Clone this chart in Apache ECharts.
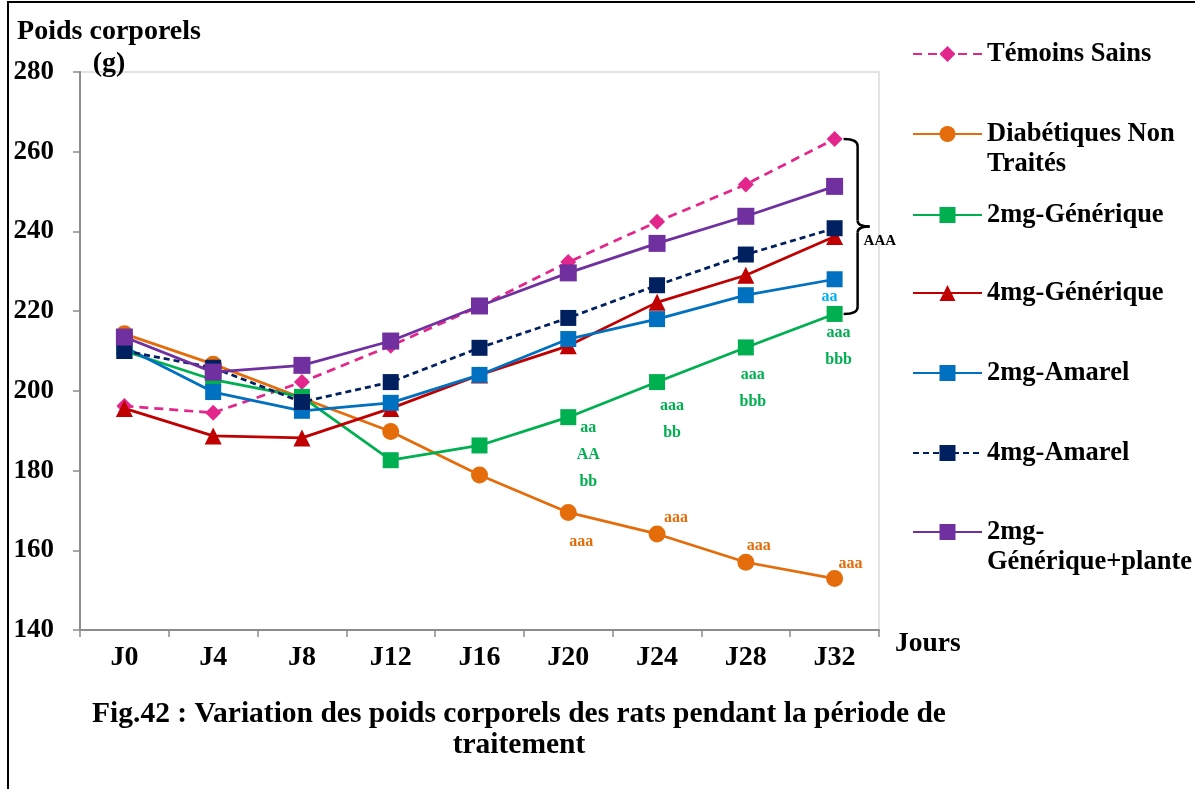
<!DOCTYPE html>
<html>
<head>
<meta charset="utf-8">
<script src="https://cdn.jsdelivr.net/npm/echarts@6/dist/echarts.min.js"></script>
<style>
    body { margin: 0; background: #fff; }
    #graphique { width: 1195px; height: 789px; }
    #cadre {
        position: absolute; left: 7px; top: 1px; width: 1300px; height: 900px;
        border-left: 2px solid #000; border-top: 2px solid #000; pointer-events: none;
    }
</style>
</head>
<body>
<div id="graphique"></div>
<div id="cadre"></div>
<script>
// Données
const jours = ['J0', 'J4', 'J8', 'J12', 'J16', 'J20', 'J24', 'J28', 'J32'];
const temoinsSains = [196.2, 194.5, 202.2, 211.3, 221.2, 232.3, 242.4, 251.8, 263.2];
const diabetiquesNonTraites = [214.3, 206.7, 198.2, 189.8, 178.9, 169.5, 164.1, 157.0, 152.9];
const generique2mg = [210.0, 202.8, 198.5, 182.6, 186.3, 193.4, 202.2, 210.9, 219.3];
const generique4mg = [195.6, 188.7, 188.2, 195.6, 204.0, 211.3, 222.2, 229.0, 238.7];
const amarel2mg = [211.0, 199.7, 195.0, 197.0, 204.0, 213.0, 218.0, 224.0, 228.0];
const amarel4mg = [210.0, 205.8, 197.2, 202.2, 210.8, 218.3, 226.5, 234.2, 240.8];
const generiquePlante = [213.5, 204.7, 206.4, 212.5, 221.3, 229.6, 237.0, 243.8, 251.3];

// Lettres de significativité (index du jour -> texte)
const lettresGenerique2mg = {5: 'aa\nAA\nbb', 6: 'aaa\nbb', 7: 'aaa\nbbb', 8: 'aaa\nbbb'};
const lettresDiabetiques = {5: 'aaa', 6: 'aaa', 7: 'aaa', 8: 'aaa'};
const lettresAmarel2mg = {8: 'aa'};

// Décalages des lettres par rapport au point
const decalGenerique2mg = {5: [20, 38], 6: [15, 37], 7: [7, 41], 8: [4, 32]};
const decalDiabetiques = {5: [13, 29], 6: [19, -16], 7: [13, -16], 8: [16, -15]};
const decalAmarel2mg = {8: [-5, 18]};

const POLICE = '"Liberation Serif", "Times New Roman", serif';

function avecLettres(valeurs, lettres, decalages, couleur) {
    return valeurs.map((v, i) => {
        if (!lettres[i]) return v;
        return {
            value: v,
            label: {
                show: true,
                position: 'inside',
                offset: decalages[i],
                formatter: lettres[i],
                color: couleur,
                fontFamily: POLICE,
                fontWeight: 'bold',
                fontSize: 16,
                lineHeight: 27
            }
        };
    });
}

function serie(nom, donnees, couleur, symbole, taille, type) {
    return {
        name: nom,
        type: 'line',
        data: donnees,
        symbol: symbole,
        symbolSize: taille,
        color: couleur,
        itemStyle: {color: couleur},
        lineStyle: {color: couleur, width: 2.75, type: type || 'solid'},
        label: {show: false},
        emphasis: {disabled: true},
        animation: false
    };
}

// Une légende par série pour reproduire l'espacement irrégulier
function legende(nom, haut, deuxLignes) {
    return {
        show: true,
        data: [nom],
        left: 907,
        top: haut,
        orient: 'vertical',
        itemWidth: 69,
        itemHeight: 20,
        selectedMode: false,
        // ligne vide en tête : le symbole reste aligné sur la première ligne
        formatter: deuxLignes ? (n => ' \n' + n) : (n => n),
        textStyle: {
            fontFamily: POLICE,
            fontWeight: 'bold',
            fontSize: 26.5,
            lineHeight: 30,
            color: '#000'
        }
    };
}

const chartDom = document.getElementById('graphique');
const myChart = echarts.init(chartDom);

const option = {
    backgroundColor: '#fff',
    animation: false,
    title: [
        {
            text: 'Fig.42 : Variation des poids corporels des rats pendant la période de\ntraitement',
            left: 514,
            top: 694,
            textAlign: 'center',
            textStyle: {
                fontFamily: POLICE, fontWeight: 'bold', fontSize: 29.5, lineHeight: 31, color: '#000'
            }
        },
        {
            text: 'Poids corporels\n(g)',
            left: 104,
            top: 11,
            textAlign: 'center',
            textStyle: {
                fontFamily: POLICE, fontWeight: 'bold', fontSize: 28, lineHeight: 32, color: '#000'
            }
        }
    ],
    legend: [
        legende('Témoins Sains', 34),
        legende('Diabétiques Non\nTraités', 84, true),
        legende('2mg-Générique', 195),
        legende('4mg-Générique', 273),
        legende('2mg-Amarel', 353),
        legende('4mg-Amarel', 433),
        legende('2mg-\nGénérique+plante', 482, true)
    ],
    grid: {
        left: 80, right: 316, top: 72, bottom: 159,
        show: true, borderColor: '#e3e3e3', borderWidth: 2
    },
    xAxis: {
        type: 'category',
        data: jours,
        name: 'Jours',
        nameLocation: 'end',
        nameGap: 16,
        nameTextStyle: {
            fontFamily: POLICE, fontWeight: 'bold', fontSize: 27.5, color: '#000',
            verticalAlign: 'top', padding: [0, 0, 0, 0]
        },
        axisLine: {lineStyle: {color: '#8c8c8c', width: 2}},
        axisTick: {show: true, length: 7, lineStyle: {color: '#8c8c8c', width: 1.5}},
        axisLabel: {
            fontFamily: POLICE, fontWeight: 'bold', fontSize: 28, color: '#000', margin: 14
        },
        splitLine: {show: false}
    },
    yAxis: {
        type: 'value',
        min: 140,
        max: 280,
        interval: 20,
        axisLine: {show: true, lineStyle: {color: '#8c8c8c', width: 2}},
        axisTick: {show: true, length: 7, lineStyle: {color: '#8c8c8c', width: 1.5}},
        axisLabel: {
            fontFamily: POLICE, fontWeight: 'bold', fontSize: 27, color: '#000', margin: 26
        },
        splitLine: {show: false}
    },
    series: [
        serie('Témoins Sains', temoinsSains, '#e3268c', 'diamond', 16, [9, 6]),
        serie('Diabétiques Non\nTraités',
            avecLettres(diabetiquesNonTraites, lettresDiabetiques, decalDiabetiques, '#e46c0a'),
            '#e46c0a', 'circle', 17),
        serie('2mg-Générique',
            avecLettres(generique2mg, lettresGenerique2mg, decalGenerique2mg, '#00b050'),
            '#00b050', 'rect', 16),
        serie('4mg-Générique', generique4mg, '#c00000', 'triangle', 17),
        serie('2mg-Amarel',
            avecLettres(amarel2mg, lettresAmarel2mg, decalAmarel2mg, '#00b0f0'),
            '#0070c0', 'rect', 16),
        serie('4mg-Amarel', amarel4mg, '#002060', 'rect', 16, [6, 4]),
        serie('2mg-\nGénérique+plante', generiquePlante, '#7030a0', 'rect', 17)
    ]
};

myChart.setOption(option);

// Accolade "AAA" entre Témoins Sains et 2mg-Générique à J32
const dernier = jours.length - 1;
const pHaut = myChart.convertToPixel({seriesIndex: 0}, [dernier, temoinsSains[dernier]]);
const pBas = myChart.convertToPixel({seriesIndex: 2}, [dernier, generique2mg[dernier]]);
const x0 = pHaut[0] + 9, x1 = x0 + 14, x2 = x1 + 12;
const yT = pHaut[1], yB = pBas[1], yM = (yT + yB) / 2;
const trait = {fill: 'none', stroke: '#000', lineWidth: 2.5};
myChart.setOption({
    graphic: [
        {type: 'bezierCurve', shape: {x1: x0, y1: yT, x2: x1, y2: yT + 7, cpx1: x1, cpy1: yT}, style: trait},
        {type: 'line', shape: {x1: x1, y1: yT + 7, x2: x1, y2: yM - 6}, style: trait},
        {type: 'bezierCurve', shape: {x1: x1, y1: yM - 6, x2: x2, y2: yM, cpx1: x1, cpy1: yM}, style: trait},
        {type: 'bezierCurve', shape: {x1: x2, y1: yM, x2: x1, y2: yM + 6, cpx1: x1, cpy1: yM}, style: trait},
        {type: 'line', shape: {x1: x1, y1: yM + 6, x2: x1, y2: yB - 7}, style: trait},
        {type: 'bezierCurve', shape: {x1: x1, y1: yB - 7, x2: x0, y2: yB, cpx1: x1, cpy1: yB}, style: trait},
        {
            type: 'text',
            x: x1 + 6,
            y: yM + 15,
            style: {
                text: 'AAA', fill: '#000', font: `bold 15px ${POLICE}`, verticalAlign: 'middle'
            }
        }
    ]
});

window.addEventListener('resize', () => myChart.resize());
</script>
</body>
</html>
